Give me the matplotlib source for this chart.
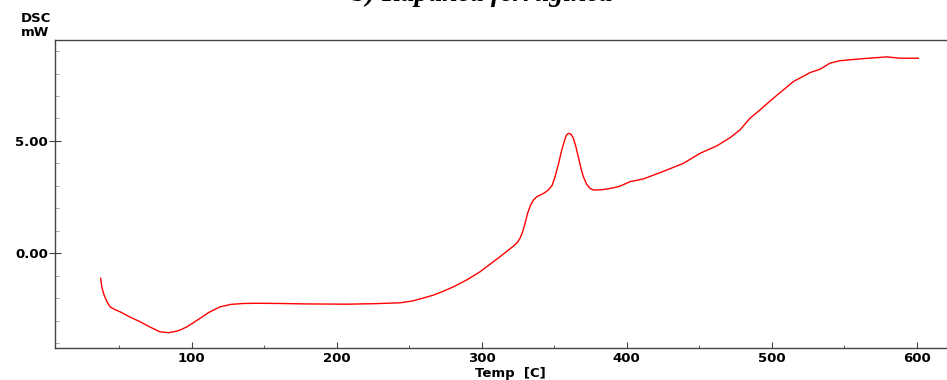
import matplotlib.pyplot as plt
from matplotlib.ticker import MultipleLocator, FormatStrFormatter

# DSC trace: temperature (C) vs heat flow (mW)
temp = [37.2, 37.6, 37.9, 39.5, 41.5, 43.7, 47.0, 50.6, 57.0, 64.3, 71.0, 78.1,
        84.0, 89.7, 93.0, 96.6, 101.0, 105.7, 112.0, 119.5, 127.0, 135.6, 145.0,
        160.9, 180.0, 206.9, 225.0, 243.7, 248.0, 252.8, 259.0, 266.6, 273.0,
        280.4, 290.0, 298.8, 306.0, 312.6, 317.5, 321.8, 324.5, 326.4, 328.2,
        329.9, 331.5, 333.5, 335.6, 338.0, 340.2, 343.0, 346.0, 348.5, 350.6,
        353.0, 355.2, 357.0, 358.1, 359.3, 360.4, 361.8, 363.2, 364.8, 366.6,
        368.3, 370.1, 372.3, 374.7, 377.0, 379.3, 382.5, 386.2, 390.5, 395.4,
        402.3, 411.4, 423.0, 439.0, 450.6, 462.1, 471.2, 478.1, 485.0, 491.9,
        501.1, 514.9, 526.4, 533.3, 540.2, 547.1, 560.9, 579.3, 588.5, 601.1]
dsc = [-1.11, -1.30, -1.49, -1.85, -2.15, -2.38, -2.50, -2.60, -2.82, -3.04, -3.27,
       -3.49, -3.53, -3.46, -3.38, -3.27, -3.09, -2.89, -2.62, -2.38, -2.27, -2.23,
       -2.22, -2.23, -2.25, -2.26, -2.24, -2.20, -2.16, -2.11, -2.00, -1.86, -1.70,
       -1.49, -1.17, -0.82, -0.47, -0.15, 0.10, 0.32, 0.48, 0.67, 0.95,
       1.34, 1.75, 2.12, 2.37, 2.52, 2.59, 2.68, 2.82, 3.02, 3.41,
       4.00, 4.60, 5.00, 5.22, 5.32, 5.34, 5.28, 5.12, 4.78, 4.30,
       3.82, 3.41, 3.08, 2.89, 2.82, 2.82, 2.83, 2.86, 2.91, 2.99,
       3.19, 3.31, 3.59, 4.00, 4.45, 4.78, 5.14, 5.49, 6.01, 6.38,
       6.90, 7.64, 8.04, 8.19, 8.46, 8.57, 8.65, 8.74, 8.68, 8.68]

fig = plt.figure(figsize=(9.47, 3.8), dpi=100)
ax = fig.add_axes([0.0581, 0.0842, 0.9419, 0.8105])

ax.plot(temp, dsc, color="#ff0000", linewidth=1.0)

ax.set_xlim(5.7, 620.9)
ax.set_ylim(-4.21, 9.49)

ax.xaxis.set_major_locator(MultipleLocator(100))
ax.xaxis.set_minor_locator(MultipleLocator(50))
ax.yaxis.set_major_locator(MultipleLocator(5))
ax.yaxis.set_minor_locator(MultipleLocator(1))
ax.yaxis.set_major_formatter(FormatStrFormatter("%.2f"))

ax.spines["right"].set_visible(False)
for s in ["left", "bottom", "top"]:
    ax.spines[s].set_color("#444444")
    ax.spines[s].set_linewidth(1.0)

ax.tick_params(axis="x", which="major", direction="in", length=4, color="#444444", pad=3)
ax.tick_params(axis="x", which="minor", direction="in", length=2, color="#444444")
ax.tick_params(axis="y", which="major", direction="inout", length=8, color="#444444", pad=1)
ax.tick_params(axis="y", which="minor", direction="in", length=3, color="#999999")

for lab in ax.get_xticklabels() + ax.get_yticklabels():
    lab.set_fontfamily("DejaVu Sans")
    lab.set_fontweight("bold")
    lab.set_fontsize(9.5)

fig.text(0.539, 0.018, "Temp  [C]", fontfamily="DejaVu Sans", fontweight="bold",
         fontsize=9.5, ha="center", va="center")
fig.text(0.022, 0.950, "DSC", fontfamily="DejaVu Sans", fontweight="bold",
         fontsize=9.5, ha="left", va="center")
fig.text(0.022, 0.914, "mW", fontfamily="DejaVu Sans", fontweight="bold",
         fontsize=9.5, ha="left", va="center")

fig.text(0.509, 0.997, "b) Rapanea ferruginea", fontfamily="Liberation Serif",
         fontweight="bold", fontstyle="italic", fontsize=20,
         ha="center", va="baseline")

fig.savefig("out.png", dpi=100)
